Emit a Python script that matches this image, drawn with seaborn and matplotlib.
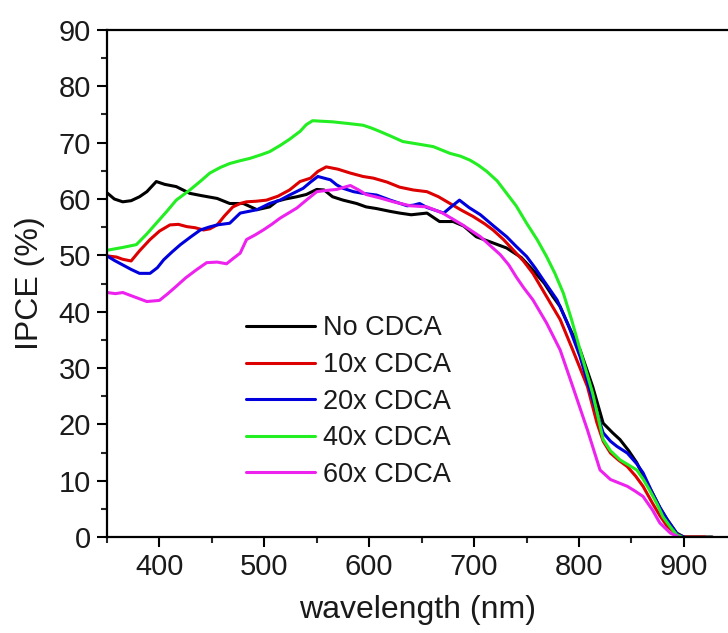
import numpy as np
import pandas as pd
import matplotlib
matplotlib.use("Agg")
import matplotlib.pyplot as plt
import seaborn as sns
from matplotlib.ticker import MultipleLocator
from matplotlib.lines import Line2D

# ---------------- data ----------------
labels = ["No CDCA", "10x CDCA", "20x CDCA", "40x CDCA", "60x CDCA"]
colors = ["#000000", "#dd0000", "#0000dd", "#22ee22", "#ee22ee"]

wl_no = [350, 357, 365, 373, 381, 388, 397, 405, 416, 429, 440, 455, 467, 480, 493, 505, 512, 520, 531, 540,
         550, 557, 565, 575, 588, 597, 607, 620, 629, 640, 655, 667, 680, 690, 702, 718, 731, 745, 756, 767,
         775, 782, 790, 801, 813, 823, 832, 839, 847, 855, 862, 870, 877, 884, 893, 900, 910, 927]
ipce_no = [61.1, 60.0, 59.5, 59.7, 60.4, 61.3, 63.1, 62.6, 62.2, 61.0, 60.6, 60.1, 59.2, 59.2, 58.1, 58.6, 59.6, 60.0, 60.4, 60.8,
           61.7, 61.6, 60.4, 59.8, 59.2, 58.6, 58.3, 57.8, 57.5, 57.2, 57.5, 56.0, 56.0, 55.2, 53.3, 52.2, 51.3, 49.6, 47.4, 45.0,
           42.7, 40.9, 37.5, 33.2, 26.7, 20.2, 18.5, 17.3, 15.4, 13.2, 10.5, 7.8, 5.2, 3.1, 0.7, 0.0, 0.0, 0.0]

wl_10 = [350, 359, 365, 373, 381, 391, 400, 410, 418, 426, 434, 442, 448, 455, 462, 470, 477, 483, 492, 502,
         513, 524, 534, 544, 551, 559, 570, 582, 594, 604, 617, 629, 642, 655, 666, 677, 688, 699, 710, 718,
         728, 737, 747, 756, 769, 782, 794, 808, 817, 823, 830, 838, 846, 854, 861, 870, 877, 884, 894, 900, 920]
ipce_10 = [49.9, 49.7, 49.3, 49.0, 50.8, 52.8, 54.3, 55.4, 55.5, 55.1, 54.9, 54.5, 54.7, 55.4, 57.0, 58.6, 59.2, 59.5, 59.6, 59.8,
           60.5, 61.6, 63.1, 63.7, 64.9, 65.7, 65.3, 64.6, 64.0, 63.7, 63.0, 62.1, 61.6, 61.3, 60.4, 59.2, 58.0, 56.9, 55.6, 54.5,
           52.8, 51.0, 49.0, 46.8, 42.7, 38.6, 33.2, 26.7, 20.3, 17.0, 14.9, 13.6, 12.5, 10.8, 9.0, 6.0, 3.8, 1.9, 0.4, 0.0, 0.0]

wl_20 = [350, 357, 365, 373, 381, 391, 398, 404, 412, 420, 430, 439, 447, 455, 467, 477, 493, 505, 515, 524,
         537, 544, 551, 563, 569, 575, 585, 594, 607, 620, 628, 636, 642, 648, 655, 663, 671, 678, 686, 695,
         706, 718, 731, 740, 750, 758, 766, 779, 790, 801, 813, 823, 830, 836, 846, 855, 861, 870, 877, 884, 894, 900]
ipce_20 = [49.9, 49.1, 48.3, 47.5, 46.8, 46.8, 47.8, 49.2, 50.6, 51.9, 53.3, 54.5, 55.0, 55.4, 55.7, 57.5, 58.1, 59.2, 59.8, 60.7,
           61.9, 63.0, 64.0, 63.4, 62.5, 61.9, 61.3, 61.0, 60.7, 59.8, 59.3, 58.8, 58.9, 59.2, 58.5, 58.0, 57.5, 58.6, 59.8, 58.5,
           57.2, 55.3, 53.3, 51.6, 49.8, 47.8, 45.6, 42.1, 37.5, 32.0, 24.4, 18.5, 17.0, 16.1, 14.9, 13.0, 11.4, 7.8, 5.3, 3.1, 0.4, 0.0]

wl_40 = [350, 365, 378, 388, 397, 407, 416, 429, 440, 448, 458, 467, 477, 486, 496, 505, 515, 524, 534, 540,
         546, 555, 565, 580, 594, 602, 610, 620, 632, 645, 661, 677, 687, 696, 704, 712, 722, 731, 740, 750,
         760, 769, 777, 785, 793, 801, 813, 823, 830, 839, 847, 855, 861, 867, 874, 880, 887, 893, 898]
ipce_40 = [50.9, 51.4, 51.9, 53.8, 55.7, 57.8, 59.8, 61.6, 63.3, 64.6, 65.6, 66.3, 66.8, 67.2, 67.8, 68.4, 69.5, 70.6, 72.0, 73.2,
           73.9, 73.8, 73.7, 73.4, 73.1, 72.6, 72.0, 71.2, 70.2, 69.8, 69.3, 68.1, 67.6, 66.9, 66.0, 64.9, 63.2, 61.0, 58.8, 55.7,
           52.8, 49.8, 46.8, 43.3, 38.5, 33.2, 25.5, 17.3, 15.3, 13.7, 12.8, 11.9, 10.3, 8.4, 6.0, 3.6, 1.8, 0.4, 0.0]

wl_60 = [350, 358, 365, 375, 388, 400, 408, 416, 425, 435, 445, 455, 464, 470, 477, 483, 491, 499, 507, 515,
         523, 531, 540, 550, 558, 569, 582, 590, 597, 610, 623, 639, 655, 670, 689, 706, 725, 733, 740, 747,
         756, 769, 782, 794, 808, 820, 830, 838, 846, 853, 861, 870, 877, 887, 895]
ipce_60 = [43.4, 43.2, 43.4, 42.7, 41.8, 42.0, 43.2, 44.5, 46.0, 47.4, 48.7, 48.8, 48.5, 49.4, 50.4, 52.8, 53.6, 54.5, 55.5, 56.6,
           57.5, 58.4, 59.8, 61.3, 61.5, 61.7, 62.4, 61.6, 60.8, 60.2, 59.5, 58.8, 58.6, 57.5, 55.4, 53.3, 50.1, 48.3, 46.2, 44.3,
           42.1, 38.0, 33.2, 26.7, 19.0, 11.9, 10.2, 9.6, 9.0, 8.2, 7.2, 4.8, 2.5, 0.7, 0.0]

x_ticks = [400, 500, 600, 700, 800, 900]
y_ticks = [0, 10, 20, 30, 40, 50, 60, 70, 80, 90]

# ---------------- build long table ----------------
series = [(wl_no, ipce_no), (wl_10, ipce_10), (wl_20, ipce_20), (wl_40, ipce_40), (wl_60, ipce_60)]
frames = []
for lab, (w, v) in zip(labels, series):
    frames.append(pd.DataFrame({"wavelength": w, "IPCE": v, "sample": lab}))
df = pd.concat(frames, ignore_index=True)

# ---------------- plot ----------------
sns.set_theme(style="ticks")
plt.rcParams["font.family"] = ["Liberation Sans", "DejaVu Sans"]

fig = plt.figure(figsize=(7.28, 6.33), dpi=100)
ax = fig.add_axes([107 / 728, 96 / 633, 621 / 728, 507 / 633])

sns.lineplot(data=df, x="wavelength", y="IPCE", hue="sample", hue_order=labels,
             palette=dict(zip(labels, colors)), sort=False, estimator=None,
             linewidth=2.2, ax=ax, legend=False)

ax.set_xlim(350, 942)
ax.set_ylim(0, 90)
ax.set_xticks(x_ticks)
ax.set_yticks(y_ticks)
ax.xaxis.set_minor_locator(MultipleLocator(50))
ax.yaxis.set_minor_locator(MultipleLocator(5))
ax.tick_params(axis="both", which="major", direction="out", length=7, width=1.5,
               labelsize=21, colors="black", labelcolor="#1a1a1a", pad=4.5)
ax.tick_params(axis="both", which="minor", direction="out", length=4, width=1.5)
ax.tick_params(axis="x", which="both", top=False)
ax.tick_params(axis="y", which="both", right=False)

for side in ["left", "bottom", "top"]:
    ax.spines[side].set_linewidth(1.6)
    ax.spines[side].set_color("black")
ax.spines["right"].set_visible(False)
ax.spines["top"].set_visible(True)

ax.set_xlabel("wavelength (nm)", fontsize=23, color="#1a1a1a", labelpad=10)
ax.set_ylabel("IPCE (%)", fontsize=23, color="#1a1a1a", labelpad=10)

handles = [Line2D([], [], color=c, lw=2.2) for c in colors]
ax.legend(handles, labels, loc="upper left", bbox_to_anchor=(0.224, 0.437),
          frameon=False, fontsize=19.5, handlelength=2.55, handletextpad=0.3,
          labelspacing=0.39, borderpad=0, borderaxespad=0, labelcolor="#1a1a1a")

fig.savefig("out.png", dpi=100)
